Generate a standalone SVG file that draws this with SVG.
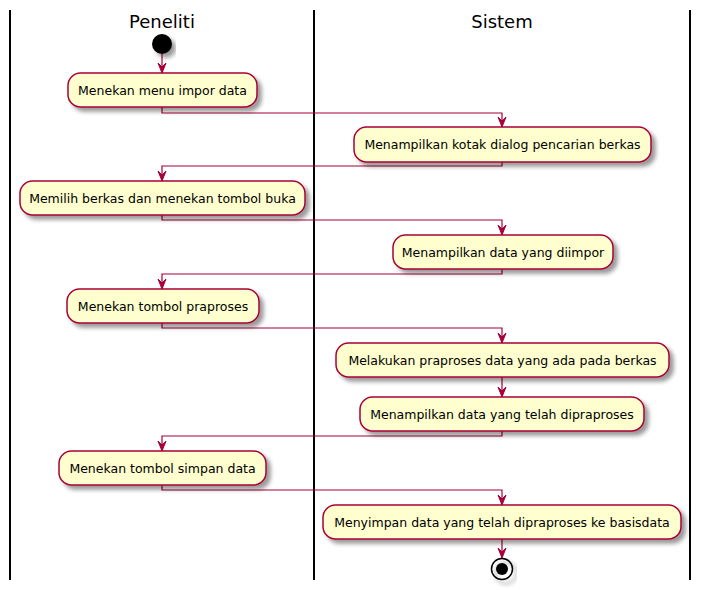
<svg xmlns="http://www.w3.org/2000/svg" width="701" height="590" viewBox="0 0 701 590">
<defs>
<filter id="sh" x="-10%" y="-20%" width="130%" height="160%">
<feGaussianBlur in="SourceAlpha" stdDeviation="2"/>
<feOffset dx="4" dy="4" result="b"/>
<feComponentTransfer><feFuncA type="linear" slope="0.4"/></feComponentTransfer>
<feMerge><feMergeNode/><feMergeNode in="SourceGraphic"/></feMerge>
</filter>
<marker id="ah" markerWidth="12" markerHeight="10" refX="11" refY="5" orient="auto" markerUnits="userSpaceOnUse" viewBox="0 0 12 10">
<polygon points="1,1 11,5 1,9 5,5" fill="#A80036" stroke="#A80036" stroke-width="1"/>
</marker>
<style>
.lane{stroke:#000;stroke-width:2;fill:none}
.title{font-family:"DejaVu Sans",sans-serif;font-size:18px;fill:#000;text-anchor:middle}
.act{fill:#FEFECE;stroke:#A80036;stroke-width:1.5;filter:url(#sh)}
.lbl{font-family:"DejaVu Sans",sans-serif;font-size:12.5px;fill:#000;text-anchor:middle}
.ca{fill:none;stroke:#A80036;stroke-width:1.2;marker-end:url(#ah)}
</style>
</defs>
<g id="lanes">
<line class="lane" x1="10" y1="10" x2="10" y2="580"/>
<line class="lane" x1="314" y1="10" x2="314" y2="580"/>
<line class="lane" x1="690" y1="10" x2="690" y2="580"/>
<text class="title" x="162" y="28">Peneliti</text>
<text class="title" x="502" y="28">Sistem</text>
</g>
<g id="connectors">
<path class="ca" d="M162,54 L162,73"/>
<path class="ca" d="M162,107 L162,113 L502,113 L502,127"/>
<path class="ca" d="M502,162 L502,166 L162,166 L162,181"/>
<path class="ca" d="M162,215 L162,220 L502,220 L502,235"/>
<path class="ca" d="M502,269 L502,274 L162,274 L162,289"/>
<path class="ca" d="M162,323 L162,328 L502,328 L502,343"/>
<path class="ca" d="M502,377 L502,397"/>
<path class="ca" d="M502,431 L502,436 L162,436 L162,451"/>
<path class="ca" d="M162,485 L162,490 L502,490 L502,505"/>
<path class="ca" d="M502,539 L502,558"/>
</g>
<g id="start"><circle cx="162" cy="44" r="10" fill="#000" filter="url(#sh)"/></g>
<g id="n1"><rect class="act" x="68" y="73" width="189" height="34" rx="12.5"/><text class="lbl" x="162.5" y="94.5">Menekan menu impor data</text></g>
<g id="n2"><rect class="act" x="354" y="127" width="297" height="35" rx="12.5"/><text class="lbl" x="502.5" y="149">Menampilkan kotak dialog pencarian berkas</text></g>
<g id="n3"><rect class="act" x="20" y="181" width="285" height="34" rx="12.5"/><text class="lbl" x="162.5" y="202.5">Memilih berkas dan menekan tombol buka</text></g>
<g id="n4"><rect class="act" x="393" y="235" width="220" height="34" rx="12.5"/><text class="lbl" x="503" y="256.5">Menampilkan data yang diimpor</text></g>
<g id="n5"><rect class="act" x="67" y="289" width="192" height="34" rx="12.5"/><text class="lbl" x="163" y="310.5">Menekan tombol praproses</text></g>
<g id="n6"><rect class="act" x="336" y="343" width="333" height="34" rx="12.5"/><text class="lbl" x="502.5" y="364.5">Melakukan praproses data yang ada pada berkas</text></g>
<g id="n7"><rect class="act" x="360" y="397" width="284" height="34" rx="12.5"/><text class="lbl" x="502" y="418.5">Menampilkan data yang telah dipraproses</text></g>
<g id="n8"><rect class="act" x="59" y="451" width="207" height="34" rx="12.5"/><text class="lbl" x="162.5" y="472.5">Menekan tombol simpan data</text></g>
<g id="n9"><rect class="act" x="323" y="505" width="358" height="34" rx="12.5"/><text class="lbl" x="502" y="526.5">Menyimpan data yang telah dipraproses ke basisdata</text></g>
<g id="end"><circle cx="502" cy="569" r="10.5" fill="none" stroke="#000" stroke-width="1.5" filter="url(#sh)"/><circle cx="502" cy="569" r="6" fill="#000"/></g>
</svg>
